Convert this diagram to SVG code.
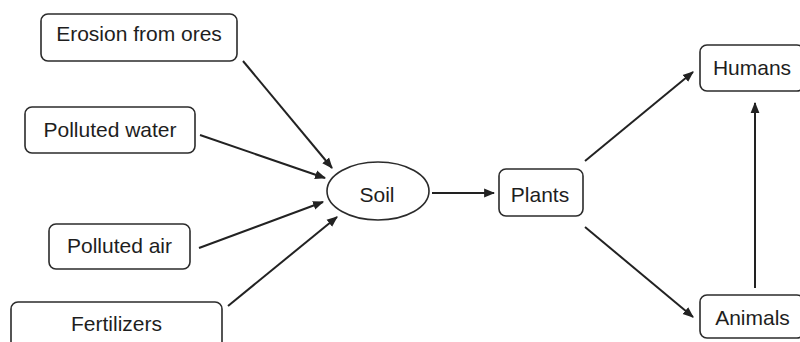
<svg xmlns="http://www.w3.org/2000/svg" width="800" height="342" viewBox="0 0 800 342">
  <style>
    .box { fill: #fff; stroke: #2b2b2b; stroke-width: 1.6; }
    .lbl { font-family: "Liberation Sans", Arial, sans-serif; font-size: 21px; fill: #1e1e1e; text-anchor: middle; }
    .edge { stroke: #222; stroke-width: 2; fill: none; marker-end: url(#arrow); }
  </style>
  <defs>
    <marker id="arrow" viewBox="0 0 10 10" refX="9" refY="5" markerWidth="5.5" markerHeight="5.5" orient="auto" markerUnits="strokeWidth">
      <path d="M0,1 L10,5 L0,9 z" fill="#222"/>
    </marker>
  </defs>
  <rect width="800" height="342" fill="#fff"/>

  <g id="connectors">
    <line class="edge" x1="243" y1="61" x2="332" y2="168"/>
    <line class="edge" x1="200" y1="135" x2="325" y2="178"/>
    <line class="edge" x1="199" y1="248" x2="323" y2="202"/>
    <line class="edge" x1="228" y1="306" x2="337" y2="217"/>
    <line class="edge" x1="432" y1="193" x2="494" y2="193"/>
    <line class="edge" x1="585" y1="161" x2="693" y2="72"/>
    <line class="edge" x1="585" y1="227" x2="693" y2="317"/>
    <line class="edge" x1="755" y1="288" x2="755" y2="103"/>
  </g>

  <g id="erosion">
    <rect class="box" x="41" y="14" width="196" height="47" rx="7"/>
    <text class="lbl" x="139" y="41">Erosion from ores</text>
  </g>
  <g id="polluted-water">
    <rect class="box" x="25" y="107" width="170" height="46" rx="7"/>
    <text class="lbl" x="110" y="137">Polluted water</text>
  </g>
  <g id="polluted-air">
    <rect class="box" x="49" y="224" width="141" height="45" rx="7"/>
    <text class="lbl" x="119.5" y="253">Polluted air</text>
  </g>
  <g id="fertilizers">
    <rect class="box" x="11" y="302" width="211" height="60" rx="7"/>
    <text class="lbl" x="116.5" y="331">Fertilizers</text>
  </g>
  <g id="soil">
    <ellipse class="box" cx="378" cy="191" rx="51" ry="29"/>
    <text class="lbl" x="377" y="202">Soil</text>
  </g>
  <g id="plants">
    <rect class="box" x="499" y="169" width="84" height="47" rx="7"/>
    <text class="lbl" x="540" y="202">Plants</text>
  </g>
  <g id="humans">
    <rect class="box" x="700" y="45" width="104" height="46" rx="7"/>
    <text class="lbl" x="752" y="75">Humans</text>
  </g>
  <g id="animals">
    <rect class="box" x="700" y="295" width="104" height="43" rx="7"/>
    <text class="lbl" x="752.5" y="325">Animals</text>
  </g>
</svg>
